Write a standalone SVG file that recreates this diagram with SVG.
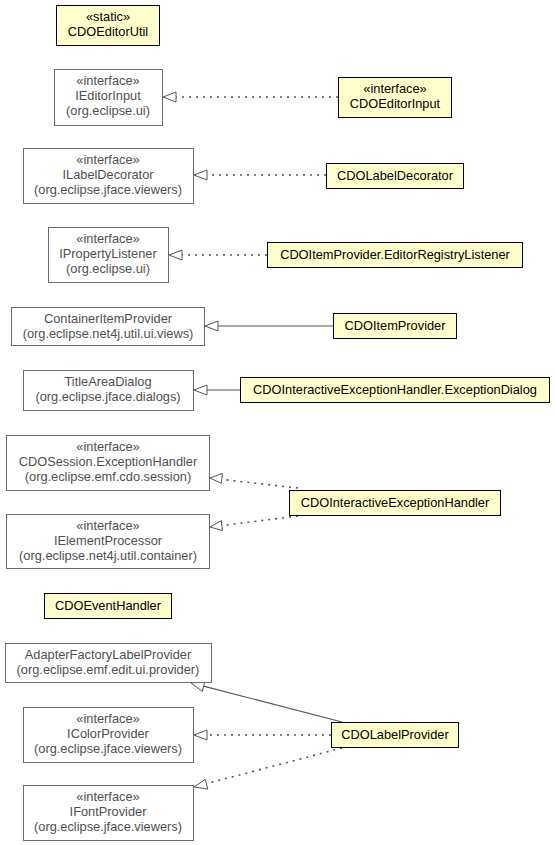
<svg xmlns="http://www.w3.org/2000/svg" width="555" height="845" viewBox="0 0 555 845">
<style>
text{font-family:"Liberation Sans",Arial,sans-serif;font-size:12.8px;text-anchor:middle}
.ext rect{fill:#fff;stroke:#6e6e6e;stroke-width:1}
.ext text{fill:#505050}
.own rect{fill:#ffffcc;stroke:#000;stroke-width:1}
.own text{fill:#000}
.c{fill:none;stroke:#555;stroke-width:1.2}
.d{stroke-dasharray:2 5;stroke-width:1.6}
.h{fill:#fff;stroke:#555;stroke-width:1}
</style>
<rect width="555" height="845" fill="#fff"/>
<g id="connectors">
<path class="c d" d="M338,97 L175,97"/>
<path class="c d" d="M326,175 L207,175"/>
<path class="c d" d="M267,255 L182,255"/>
<path class="c" d="M333,326 L218,326"/>
<path class="c" d="M240,390 L207,390"/>
<path class="c d" d="M298,488 L222,479.4"/>
<path class="c d" d="M298,516 L222,525.5"/>
<path class="c" d="M342,722 L203.6,686.2"/>
<path class="c d" d="M331,735 L207,735"/>
<path class="c d" d="M342,748 L206.6,783.6"/>
<path class="h" d="M163,97 L176,92 L176,102 Z"/>
<path class="h" d="M194,175 L207,170 L207,180 Z"/>
<path class="h" d="M169,255 L182,250 L182,260 Z"/>
<path class="h" d="M205,326 L218,321 L218,331 Z"/>
<path class="h" d="M194,390 L207,385 L207,395 Z"/>
<path class="h" d="M210,478 L222.4,473.5 L221.3,483.4 Z"/>
<path class="h" d="M210,527 L221.3,520.6 L222.5,530.5 Z"/>
<path class="h" d="M191,683 L204.8,681.7 L202.3,691.4 Z"/>
<path class="h" d="M194,735 L207,730 L207,740 Z"/>
<path class="h" d="M194,787 L205.3,779.4 L207.8,789.1 Z"/>
</g>
<g id="CDOEditorUtil" class="own"><rect x="56.5" y="5.5" width="103" height="40"/><text x="108" y="21">«static»</text><text x="108" y="36">CDOEditorUtil</text></g>
<g id="IEditorInput" class="ext"><rect x="54.5" y="69.5" width="108" height="56"/><text x="108" y="85">«interface»</text><text x="108" y="100">IEditorInput</text><text x="108" y="115">(org.eclipse.ui)</text></g>
<g id="CDOEditorInput" class="own"><rect x="338.5" y="77.5" width="113" height="40"/><text x="395" y="93">«interface»</text><text x="395" y="108">CDOEditorInput</text></g>
<g id="ILabelDecorator" class="ext"><rect x="23.5" y="148.5" width="170" height="55"/><text x="108" y="164">«interface»</text><text x="108" y="179">ILabelDecorator</text><text x="108" y="194">(org.eclipse.jface.viewers)</text></g>
<g id="CDOLabelDecorator" class="own"><rect x="326.5" y="163.5" width="137" height="25"/><text x="395" y="180">CDOLabelDecorator</text></g>
<g id="IPropertyListener" class="ext"><rect x="48.5" y="227.5" width="120" height="55"/><text x="108" y="243">«interface»</text><text x="108" y="258">IPropertyListener</text><text x="108" y="273">(org.eclipse.ui)</text></g>
<g id="CDOItemProvider.EditorRegistryListener" class="own"><rect x="267.5" y="242.5" width="255" height="25"/><text x="395" y="259">CDOItemProvider.EditorRegistryListener</text></g>
<g id="ContainerItemProvider" class="ext"><rect x="11.5" y="307.5" width="193" height="38"/><text x="108" y="323">ContainerItemProvider</text><text x="108" y="338">(org.eclipse.net4j.util.ui.views)</text></g>
<g id="CDOItemProvider" class="own"><rect x="333.5" y="313.5" width="123" height="25"/><text x="395" y="330">CDOItemProvider</text></g>
<g id="TitleAreaDialog" class="ext"><rect x="23.5" y="370.5" width="170" height="40"/><text x="108" y="386">TitleAreaDialog</text><text x="108" y="401">(org.eclipse.jface.dialogs)</text></g>
<g id="CDOInteractiveExceptionHandler.ExceptionDialog" class="own"><rect x="240.5" y="377.5" width="309" height="25"/><text x="395" y="394">CDOInteractiveExceptionHandler.ExceptionDialog</text></g>
<g id="CDOSession.ExceptionHandler" class="ext"><rect x="6.5" y="435.5" width="203" height="55"/><text x="108" y="451">«interface»</text><text x="108" y="466">CDOSession.ExceptionHandler</text><text x="108" y="481">(org.eclipse.emf.cdo.session)</text></g>
<g id="IElementProcessor" class="ext"><rect x="6.5" y="514.5" width="203" height="54"/><text x="108" y="530">«interface»</text><text x="108" y="545">IElementProcessor</text><text x="108" y="560">(org.eclipse.net4j.util.container)</text></g>
<g id="CDOInteractiveExceptionHandler" class="own"><rect x="289.5" y="490.5" width="211" height="25"/><text x="395" y="507">CDOInteractiveExceptionHandler</text></g>
<g id="CDOEventHandler" class="own"><rect x="44.5" y="593.5" width="127" height="25"/><text x="108" y="610">CDOEventHandler</text></g>
<g id="AdapterFactoryLabelProvider" class="ext"><rect x="5.5" y="643.5" width="206" height="39"/><text x="108" y="659">AdapterFactoryLabelProvider</text><text x="108" y="674">(org.eclipse.emf.edit.ui.provider)</text></g>
<g id="IColorProvider" class="ext"><rect x="23.5" y="707.5" width="170" height="55"/><text x="108" y="723">«interface»</text><text x="108" y="738">IColorProvider</text><text x="108" y="753">(org.eclipse.jface.viewers)</text></g>
<g id="CDOLabelProvider" class="own"><rect x="331.5" y="722.5" width="127" height="25"/><text x="395" y="739">CDOLabelProvider</text></g>
<g id="IFontProvider" class="ext"><rect x="23.5" y="785.5" width="170" height="55"/><text x="108" y="801">«interface»</text><text x="108" y="816">IFontProvider</text><text x="108" y="831">(org.eclipse.jface.viewers)</text></g>
</svg>
